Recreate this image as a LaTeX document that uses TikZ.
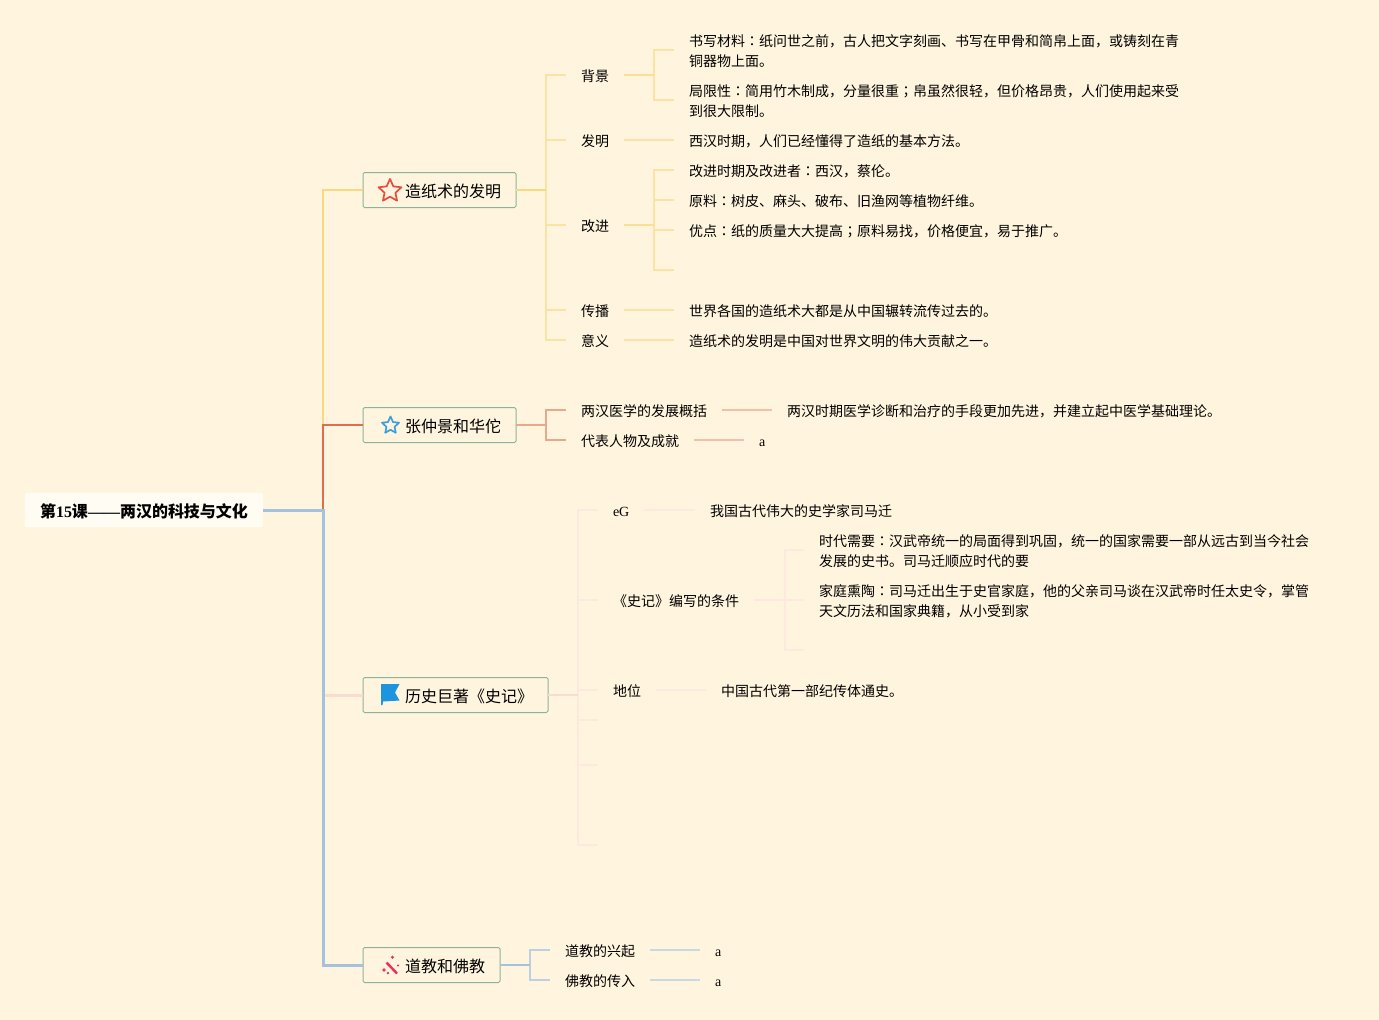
\documentclass[tikz,border=0pt]{standalone}
\usepackage{fontspec}
\setmainfont{Noto Sans CJK SC}
\newfontfamily\lat{Liberation Serif}
\newfontfamily\tcf{Noto Sans CJK TC}
\newcommand{\cnco}{{\tcf ：}}
\newcommand{\cnse}{{\tcf ；}}
\usetikzlibrary{shapes.geometric}
\definecolor{bgc}{HTML}{FFF4DD}
\definecolor{rootc}{HTML}{FFFCF4}
\definecolor{boxc}{HTML}{8DB49A}
\definecolor{yA}{HTML}{F9D97E}
\definecolor{yB}{HTML}{FBE3A6}
\definecolor{yC}{HTML}{FCDF96}
\definecolor{rA}{HTML}{DF6F4C}
\definecolor{rB}{HTML}{E9A78D}
\definecolor{rC}{HTML}{F3BFAC}
\definecolor{pA}{HTML}{FADBD0}
\definecolor{pB}{HTML}{FCEADF}
\definecolor{bA}{HTML}{A4C1E0}
\definecolor{bB}{HTML}{BDD0E2}
\definecolor{bC}{HTML}{C9D9E2}
\definecolor{icR}{HTML}{E74C3C}
\definecolor{icB}{HTML}{3CA0DC}
\definecolor{icF}{HTML}{1B95E0}
\definecolor{icP}{HTML}{E8305A}
\tikzset{
 x=1pt,y=-1pt,
 rootnode/.style={fill=rootc,rounded corners=1.5pt,inner sep=0pt,outer sep=0pt,minimum width=238pt,minimum height=34pt,text height=24pt,text depth=10pt,font=\fontsize{16}{20}\selectfont\bfseries},
 boxnode/.style={draw=boxc,line width=1pt,rounded corners=1.5pt,inner sep=0pt,outer sep=0pt,anchor=west,minimum height=35pt,text height=24.5pt,text depth=10.5pt,font=\fontsize{16}{20}\selectfont},
 txt/.style={anchor=west,inner xsep=15pt,inner ysep=0pt,outer sep=0pt,align=left,text height=14pt,text depth=1.4pt,font=\fontsize{14}{20}\selectfont},
 twoline/.style={txt,text height=34pt},
 conn/.style={line width=#1,line join=miter},
 conn/.default=1pt,
 staricon/.style={star,star points=5,star point ratio=2.1,line width=1.7pt,line join=round,inner sep=0pt}
}
\newcommand{\boxlabel}[2]{\hbox to #1pt{\hspace{42pt}#2\hss}}
\begin{document}
\begin{tikzpicture}
\useasboundingbox (0,0) rectangle (1379,1020);
\fill[bgc] (0,0) rectangle (1379,1020);
% nodes
\node[rootnode] (root) at (144,510) {第{\lat 15}课{\lat ——}两汉的科技与文化};
\node[boxnode] (b1) at (363,190) {\boxlabel{153}{造纸术的发明}};
\node[boxnode] (b2) at (363,425) {\boxlabel{153}{张仲景和华佗}};
\node[boxnode] (b3) at (363,695) {\boxlabel{185}{历史巨著《史记》}};
\node[boxnode] (b4) at (363,965) {\boxlabel{137}{道教和佛教}};
% branch 1
\node[txt] (a1) at (566,75) {背景};
\node[txt] (a2) at (566,140) {发明};
\node[txt] (a3) at (566,225) {改进};
\node[txt] (a4) at (566,310) {传播};
\node[txt] (a5) at (566,340) {意义};
\node[twoline] (t1) at (674,50) {书写材料\cnco 纸问世之前，古人把文字刻画、书写在甲骨和简帛上面，或铸刻在青\\铜器物上面。};
\node[twoline] (t2) at (674,100) {局限性\cnco 简用竹木制成，分量很重\cnse 帛虽然很轻，但价格昂贵，人们使用起来受\\到很大限制。};
\node[txt] (t3) at (674,140) {西汉时期，人们已经懂得了造纸的基本方法。};
\node[txt] (t4) at (674,170) {改进时期及改进者\cnco 西汉，蔡伦。};
\node[txt] (t5) at (674,200) {原料\cnco 树皮、麻头、破布、旧渔网等植物纤维。};
\node[txt] (t6) at (674,230) {优点\cnco 纸的质量大大提高\cnse 原料易找，价格便宜，易于推广。};
\coordinate (t7) at (674,270);
\node[txt] (t8) at (674,310) {世界各国的造纸术大都是从中国辗转流传过去的。};
\node[txt] (t9) at (674,340) {造纸术的发明是中国对世界文明的伟大贡献之一。};
% branch 2
\node[txt] (c1) at (566,410) {两汉医学的发展概括};
\node[txt] (c2) at (566,440) {代表人物及成就};
\node[txt] (u1) at (772,410) {两汉时期医学诊断和治疗的手段更加先进，并建立起中医学基础理论。};
\node[txt] (u2) at (744,440) {\lat a};
% branch 3
\node[txt] (d1) at (598,510) {\lat eG};
\node[txt] (d2) at (598,600) {《史记》编写的条件};
\node[txt] (d3) at (598,690) {地位};
\coordinate (d4) at (598,720);
\coordinate (d5) at (598,765);
\coordinate (d6) at (598,845);
\node[txt] (v1) at (695,510) {我国古代伟大的史学家司马迁};
\node[twoline] (v2) at (804,550) {时代需要\cnco 汉武帝统一的局面得到巩固，统一的国家需要一部从远古到当今社会\\发展的史书。司马迁顺应时代的要};
\node[twoline] (v3) at (804,600) {家庭熏陶\cnco 司马迁出生于史官家庭，他的父亲司马谈在汉武帝时任太史令，掌管\\天文历法和国家典籍，从小受到家};
\coordinate (v4) at (804,650);
\node[txt] (v5) at (706,690) {中国古代第一部纪传体通史。};
% branch 4
\node[txt] (e1) at (550,950) {道教的兴起};
\node[txt] (e2) at (550,980) {佛教的传入};
\node[txt] (w1) at (700,950) {\lat a};
\node[txt] (w2) at (700,980) {\lat a};
% trunk connectors
\draw[conn=2.4pt,yA] (root.east) -- ++(60,0) |- (b1.west);
\draw[conn=2.4pt,rA] (root.east) -- ++(60,0) |- (b2.west);
\draw[conn=3pt,pA] (323,695) -- (b3.west);
\draw[conn=3pt,bA] (root.east) -- ++(60,0) |- (b4.west);
% yellow
\foreach \n in {a1,a2,a3,a4,a5}{\draw[conn=1.5pt,yB] (b1.east) ++(30,0) |- (\n.west);}
\draw[conn=2pt,yA] (b1.east) -- ++(30,0);
\draw[conn=1.4pt,yB] (a1.east) -- ++(30,0) |- (t1.west);
\draw[conn=1.4pt,yB] (a1.east) -- ++(30,0) |- (t2.west);
\draw[conn=2pt,yC] (a1.east) -- ++(30,0);
\draw[conn=1.3pt,yB] (a2.east) -- (t3.west);
\foreach \n in {t4,t5,t6,t7}{\draw[conn=1.4pt,yB] (a3.east) ++(30,0) |- (\n);}
\draw[conn=2pt,yC] (a3.east) -- ++(30,0);
\draw[conn=1.3pt,yB] (a4.east) -- (t8.west);
\draw[conn=1.3pt,yB] (a5.east) -- (t9.west);
% red
\draw[conn=1.5pt,rB] (b2.east) ++(30,0) |- (c1.west);
\draw[conn=1.5pt,rB] (b2.east) ++(30,0) |- (c2.west);
\draw[conn=1.7pt,rB] (b2.east) -- ++(30,0);
\draw[conn=1.5pt,rC] (c1.east) -- (u1.west);
\draw[conn=1.3pt,rC] (c2.east) -- (u2.west);
% pink
\foreach \n in {d1,d2,d3,d4,d5,d6}{\draw[conn=1.5pt,pB] (b3.east) ++(30,0) |- (\n);}
\draw[conn=1.5pt,pA] (b3.east) -- ++(30,0);
\draw[conn=1.4pt,pB] (d1.east) -- (v1.west);
\draw[conn=1.4pt,pB] (d2.east) -- (v3.west);
\coordinate (vj) at (785,600);
\draw[conn=1.4pt,pB] (vj) |- (v2.west);
\draw[conn=1.4pt,pB] (vj) |- (v4);
\draw[conn=1.4pt,pB] (d3.east) -- (v5.west);
% blue
\draw[conn=1.5pt,bB] (b4.east) ++(30,0) |- (e1.west);
\draw[conn=1.5pt,bB] (b4.east) ++(30,0) |- (e2.west);
\draw[conn=1.7pt,bA] (b4.east) -- ++(30,0);
\draw[conn=1.4pt,bC] (e1.east) -- (w1.west);
\draw[conn=1.4pt,bC] (e2.east) -- (w2.west);
% icons
\node[staricon,draw=icR,minimum size=24pt] (i1) at (390,191) {};
\node[staricon,draw=icB,minimum size=18pt] (i2) at (390.5,425.5) {};
\fill[icF] (381,684) -- (399.5,684) -- (395,692.5) -- (399.5,700.5) -- (383,701.5) -- (382.5,705) -- (381,705) -- cycle;
\draw[line width=2.4pt,icP] (386.5,962.5) -- (397,973.5);
\fill[icP] (392.5,957.3) circle (1.6) (398,965.5) circle (1.2) (384,970) circle (1.9) (388,973) circle (1.3);
\end{tikzpicture}
\end{document}
